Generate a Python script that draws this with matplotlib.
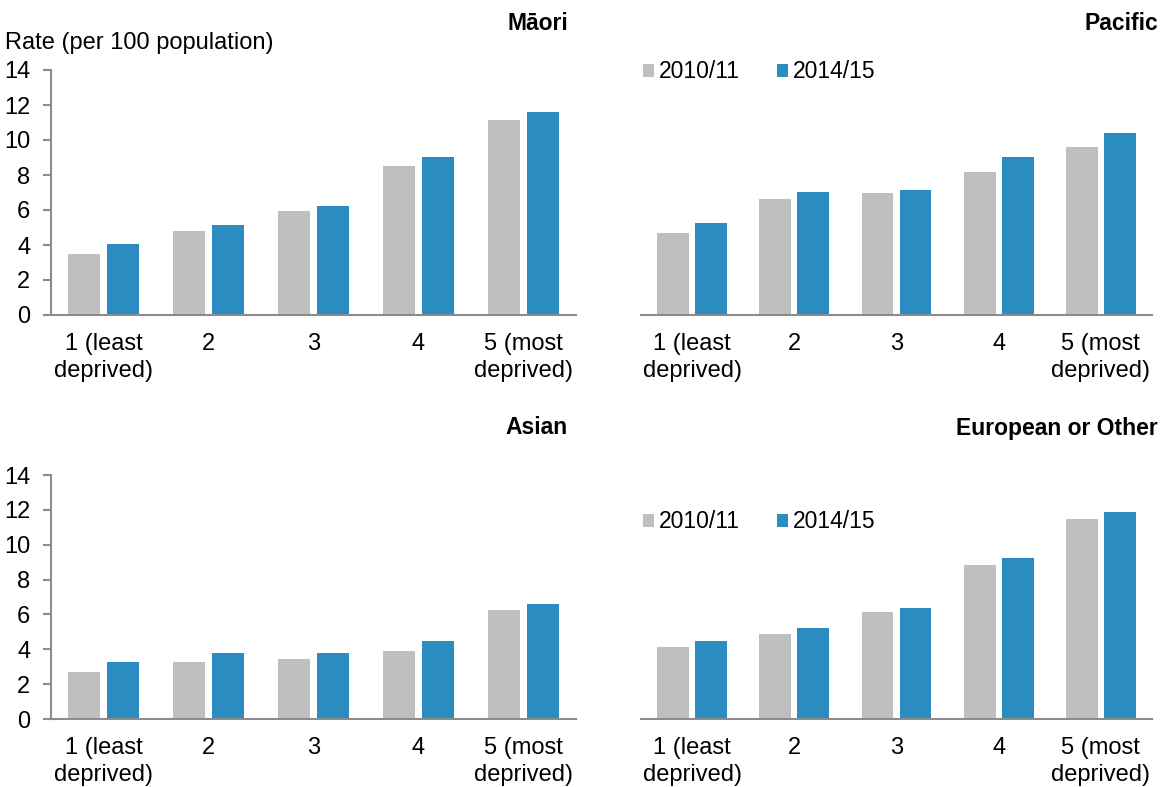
import numpy as np
import matplotlib
matplotlib.use('Agg')
import matplotlib.pyplot as plt

plt.rcParams['font.family'] = ['Liberation Sans', 'DejaVu Sans']

quintiles = ['1 (least\ndeprived)', '2', '3', '4', '5 (most\ndeprived)']
series = ['2010/11', '2014/15']

maori_1011 = [3.5, 4.8, 5.95, 8.5, 11.15]
maori_1415 = [4.05, 5.15, 6.25, 9.05, 11.6]
pacific_1011 = [4.7, 6.6, 6.95, 8.15, 9.6]
pacific_1415 = [5.25, 7.05, 7.15, 9.05, 10.4]
asian_1011 = [2.7, 3.25, 3.45, 3.9, 6.25]
asian_1415 = [3.25, 3.8, 3.8, 4.45, 6.6]
euro_1011 = [4.15, 4.9, 6.15, 8.85, 11.5]
euro_1415 = [4.45, 5.25, 6.35, 9.25, 11.85]

GREY = '#BFBFBF'
BLUE = '#2B8CBF'
AXC = '#8C8C8C'

W, H = 1163, 787
fig = plt.figure(figsize=(W / 100, H / 100), dpi=100)


def px_axes(x0, x1, ytop, ybot):
    return fig.add_axes([x0 / W, 1 - ybot / H, (x1 - x0) / W, (ybot - ytop) / H])


# title, data, axes box in pixels, y axis shown, legend y (pixels)
panels = [
    ('Māori', maori_1011, maori_1415, (51, 576, 70, 315), True, None),
    ('Pacific', pacific_1011, pacific_1415, (641, 1152, 70, 315), False, 72),
    ('Asian', asian_1011, asian_1415, (51, 576, 475, 719), True, None),
    ('European or Other', euro_1011, euro_1415, (641, 1152, 475, 719), False, 522),
]

x = np.arange(len(quintiles))
w = 0.31
off = 0.186

for title, a, b, box, yaxis, leg_y in panels:
    ax = px_axes(*box)
    ax.bar(x - off, a, w, color=GREY, label=series[0])
    ax.bar(x + off, b, w, color=BLUE, label=series[1])
    ax.set_xlim(-0.5, 4.5)
    ax.set_ylim(0, 14)
    ax.set_xticks(x)
    ax.set_xticklabels(quintiles, fontsize=17, linespacing=1.3)
    ax.tick_params(axis='x', length=0, pad=13)
    for s in ['top', 'right']:
        ax.spines[s].set_visible(False)
    ax.spines['bottom'].set_color(AXC)
    ax.spines['bottom'].set_linewidth(1.5)
    if yaxis:
        ax.set_yticks(np.arange(0, 15, 2))
        ax.tick_params(axis='y', labelsize=17, length=6, width=1.5, color=AXC, pad=9)
        ax.spines['left'].set_color(AXC)
        ax.spines['left'].set_linewidth(1.5)
    else:
        ax.spines['left'].set_visible(False)
        ax.set_yticks([])
    # title, right aligned
    xr = box[1] - 8 if yaxis else box[1] + 6
    fig.text(xr / W, 1 - (box[2] - 47) / H, title, ha='right', va='center',
             fontsize=16.5, fontweight='bold')
    if leg_y is not None:
        ax.legend(loc='center left', bbox_to_anchor=(643 / W, 1 - leg_y / H),
                  bbox_transform=fig.transFigure, ncol=2, frameon=False, fontsize=16.5,
                  handlelength=0.5, handleheight=0.5, handletextpad=0.2,
                  columnspacing=1.6, borderpad=0, borderaxespad=0)

fig.text(5 / W, 1 - 43 / H, 'Rate (per 100 population)', ha='left', va='center', fontsize=17)

fig.savefig('out.png', dpi=100)
